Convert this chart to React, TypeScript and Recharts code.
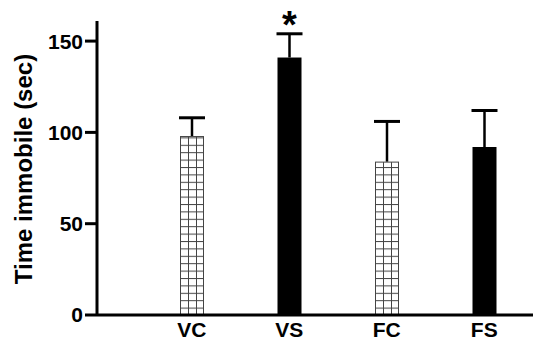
import React from 'react';
import { BarChart, Bar, XAxis, YAxis } from 'recharts';

const categories = ['VC', 'VS', 'FC', 'FS'];
const means = [98, 141, 84, 92];
const errors = [10, 13, 22, 20];
const fills = ['hatch', 'solid', 'hatch', 'solid'];
const marks = ['', '*', '', ''];
const yTicks = [0, 50, 100, 150];

const data = categories.map((c, i) => ({
  name: c,
  value: means[i],
  err: errors[i],
  fill: fills[i],
  mark: marks[i],
}));

const FONT = '"Liberation Sans", Arial, Helvetica, sans-serif';

const BarShape = (props: any) => {
  const { x, y, width, height, payload, index } = props;
  const perUnit = payload.value ? height / payload.value : 0;
  const errTop = y - payload.err * perUnit;
  const cx = x + width / 2;
  const capHalf = 13;
  const id = `hatch-${index}`;
  return (
    <g>
      {payload.fill === 'hatch' ? (
        <>
          <defs>
            <pattern id={id} patternUnits="userSpaceOnUse" x={x} y={y + height} width={8} height={7.4}>
              <rect x={0} y={0} width={8} height={7.4} fill="#fff" />
              <line x1={0.5} y1={0} x2={0.5} y2={7.4} stroke="#444" strokeWidth={1} />
              <line x1={0} y1={0.5} x2={8} y2={0.5} stroke="#444" strokeWidth={1} />
            </pattern>
          </defs>
          <rect x={x + 0.5} y={y + 0.5} width={width - 1} height={height - 1} fill={`url(#${id})`} stroke="#444" strokeWidth={1} />
        </>
      ) : (
        <rect x={x} y={y} width={width} height={height} fill="#000" />
      )}
      <line x1={cx} y1={y} x2={cx} y2={errTop} stroke="#000" strokeWidth={2.5} />
      <line x1={cx - capHalf} y1={errTop} x2={cx + capHalf} y2={errTop} stroke="#000" strokeWidth={3} />
      {payload.mark ? (
        <text x={cx} y={errTop + 4} textAnchor="middle" fontFamily={FONT} fontWeight="bold" fontSize={38} fill="#000">
          {payload.mark}
        </text>
      ) : null}
    </g>
  );
};

const YLabel = (props: any) => {
  const vb = props.viewBox;
  const cx = 23;
  const cy = vb.y + vb.height / 2 + 1;
  return (
    <text
      x={cx}
      y={cy}
      transform={`rotate(-90, ${cx}, ${cy})`}
      textAnchor="middle"
      dominantBaseline="central"
      fontFamily={FONT}
      fontWeight="bold"
      fontSize={24}
      fill="#000"
    >
      Time immobile (sec)
    </text>
  );
};

export default function App() {
  return (
    <div style={{ position: 'absolute', left: 0, top: 0, background: '#fff' }}>
      <BarChart
        width={533}
        height={346}
        data={data}
        margin={{ top: 21, right: 0, bottom: 0, left: 0 }}
        barSize={24}
      >
        <XAxis
          dataKey="name"
          height={31}
          padding={{ left: 46, right: 0 }}
          tickLine={false}
          tickMargin={1}
          axisLine={{ stroke: '#000', strokeWidth: 3 }}
          tick={{ fill: '#000', fontFamily: FONT, fontWeight: 'bold', fontSize: 21 }}
          interval={0}
        />
        <YAxis
          width={97}
          domain={[0, 161]}
          ticks={yTicks}
          tickSize={12}
          tickMargin={2}
          axisLine={{ stroke: '#000', strokeWidth: 3 }}
          tickLine={{ stroke: '#000', strokeWidth: 3 }}
          tick={{ fill: '#000', fontFamily: FONT, fontWeight: 'bold', fontSize: 21 }}
          label={{ content: YLabel }}
        />
        <Bar dataKey="value" isAnimationActive={false} shape={BarShape} />
      </BarChart>
    </div>
  );
}
